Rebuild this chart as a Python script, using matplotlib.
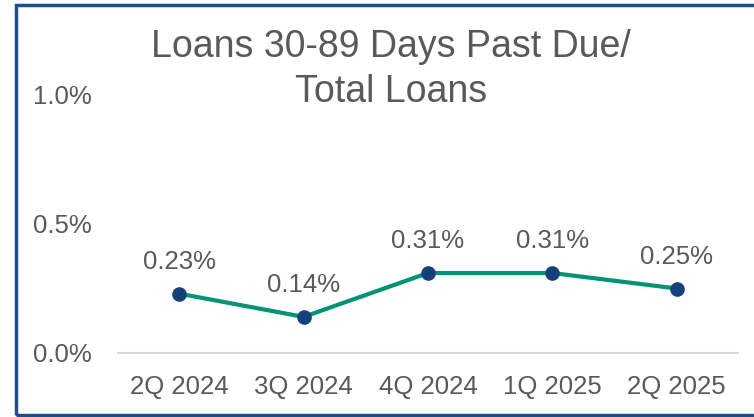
import matplotlib
matplotlib.use("Agg")
import matplotlib.pyplot as plt
from matplotlib.patches import Rectangle

categories = ["2Q 2024", "3Q 2024", "4Q 2024", "1Q 2025", "2Q 2025"]
values = [0.23, 0.14, 0.31, 0.31, 0.25]
labels = ["0.23%", "0.14%", "0.31%", "0.31%", "0.25%"]
yticks = [0.0, 0.5, 1.0]
ytick_labels = ["0.0%", "0.5%", "1.0%"]
title_lines = ["Loans 30-89 Days Past Due/", "Total Loans"]

W, H = 754, 417
plt.rcParams['font.family'] = ['Liberation Sans', 'DejaVu Sans']
gray = "#595959"

fig = plt.figure(figsize=(W / 100, H / 100), dpi=100)
ax = fig.add_axes([117 / W, 64 / H, (739 - 117) / W, 258 / H])

x = list(range(len(categories)))
ax.plot(x, values, color="#009473", lw=3.0, zorder=2, solid_capstyle='round')
ax.plot(x, values, 'o', color="#15407a", markersize=9.5, zorder=3)
for xi, v, lab in zip(x, values, labels):
    ax.annotate(lab, (xi, v), xytext=(0, 23), textcoords='offset points',
                ha='center', va='center', fontsize=18.5, color=gray)

ax.set_xlim(-0.5, len(categories) - 0.5)
ax.set_ylim(0, 1.0)
ax.set_xticks(x)
ax.set_xticklabels(categories, fontsize=18.5, color=gray)
ax.set_yticks(yticks)
ax.set_yticklabels(ytick_labels, fontsize=18.5, color=gray)
ax.tick_params(axis='both', length=0)
ax.tick_params(axis='y', pad=18)
ax.tick_params(axis='x', pad=16)
for s in ['top', 'right', 'left']:
    ax.spines[s].set_visible(False)
ax.spines['bottom'].set_color("#d9d9d9")
ax.spines['bottom'].set_linewidth(1.5)
ax.spines['bottom'].set_capstyle('butt')
ax.set_facecolor('none')

fig.text(391 / W, 1 - 47 / H, title_lines[0], ha='center', va='center',
         fontsize=27, color=gray)
fig.text(391 / W, 1 - 92 / H, title_lines[1], ha='center', va='center',
         fontsize=27, color=gray)

border = Rectangle((15.5 / W, 2.5 / H), 1.0, 1 - 7 / H, transform=fig.transFigure,
                   fill=False, edgecolor="#1f4e89", lw=2.5, clip_on=False)
fig.patches.append(border)

fig.savefig("out.png", dpi=100)
